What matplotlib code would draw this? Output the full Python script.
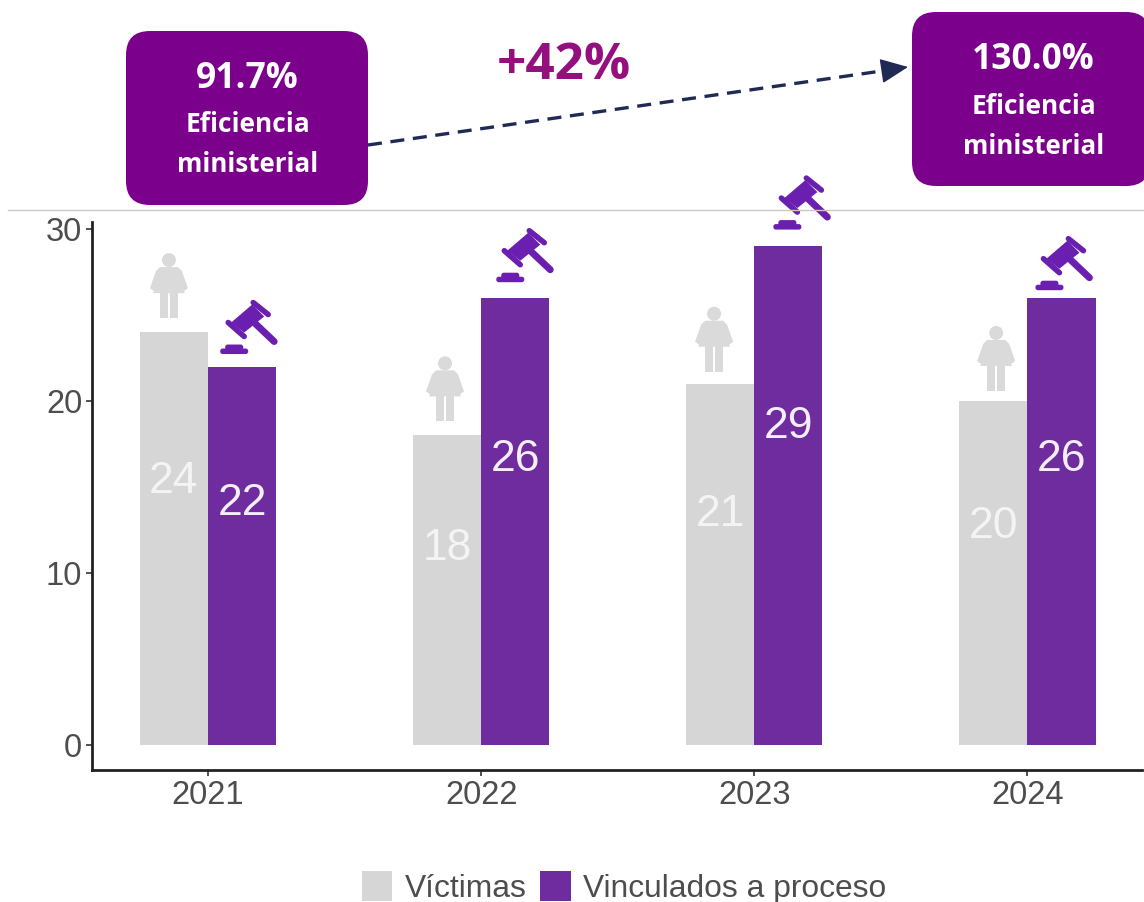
import matplotlib
matplotlib.use("Agg")
import matplotlib.pyplot as plt
from matplotlib.patches import FancyBboxPatch, Polygon, Circle, Rectangle
from matplotlib.lines import Line2D

years = ["2021", "2022", "2023", "2024"]
victimas = [24, 18, 21, 20]
vinculados = [22, 26, 29, 26]
ticks_y = [0, 10, 20, 30]
legend_labels = ["Víctimas", "Vinculados a proceso"]
box_values = ["91.7%", "130.0%"]
box_text = "Eficiencia\nministerial"
change_label = "+42%"

W, H = 1144, 902
GRAY = "#D6D6D6"
ICON_GRAY = "#DADADA"
PURPLE = "#6F2C9E"
MAG = "#7B008B"
TXT = "#4D4D4D"

fig = plt.figure(figsize=(W / 100, H / 100), dpi=100, facecolor="white")
ax = fig.add_axes([92 / W, 1 - 770 / H, (1142 - 92) / W, (770 - 222) / H])
ov = fig.add_axes([0, 0, 1, 1], zorder=5)
ov.set_xlim(0, W); ov.set_ylim(H, 0); ov.axis("off")

xs = list(range(len(years)))
bw = 0.25
b1 = ax.bar([x - bw / 2 for x in xs], victimas, bw, color=GRAY, label=legend_labels[0])
b2 = ax.bar([x + bw / 2 for x in xs], vinculados, bw, color=PURPLE, label=legend_labels[1])
ax.set_xlim(-0.425, 3.42)
ax.set_ylim(-1.45, 30.4)
ax.set_xticks(xs, years)
ax.set_yticks(ticks_y)
ax.tick_params(axis="both", labelsize=23.5, labelcolor=TXT, color="#333333", width=1.2, length=4, pad=3)
for s in ("top", "right"):
    ax.spines[s].set_visible(False)
for s in ("left", "bottom"):
    ax.spines[s].set_linewidth(2)
    ax.spines[s].set_color("#222222")
for t in ax.get_xticklabels() + ax.get_yticklabels():
    t.set_fontfamily("Liberation Sans")

for bars, vals, col in ((b1, victimas, "#F4F4F4"), (b2, vinculados, "#F3EEF8")):
    for r, v in zip(bars, vals):
        ax.text(r.get_x() + r.get_width() / 2, v * 0.645 - 0.17, str(v), ha="center", va="center",
                color=col, fontsize=32, family="Liberation Sans")


def to_px(x, y):
    px, py = ax.transData.transform((x, y))
    return px, H - py


def woman(cx, bottom):
    """Person icon: cx is the centre, bottom is the foot line, in pixels."""
    c = ICON_GRAY
    ov.add_patch(Circle((cx, bottom - 58), 7, color=c, lw=0))
    ov.add_patch(Polygon([(cx - 9, bottom - 51), (cx + 9, bottom - 51), (cx + 13, bottom - 47),
                          (cx + 19, bottom - 30), (cx + 15, bottom - 27), (cx + 10, bottom - 37),
                          (cx + 16, bottom - 25), (cx - 16, bottom - 25), (cx - 10, bottom - 37),
                          (cx - 15, bottom - 27), (cx - 19, bottom - 30), (cx - 13, bottom - 47)],
                         closed=True, color=c, lw=0))
    ov.add_patch(Rectangle((cx - 9, bottom - 27), 8, 27, color=c, lw=0))
    ov.add_patch(Rectangle((cx + 1, bottom - 27), 8, 27, color=c, lw=0))


def gavel(left, top):
    """Gavel icon: left and top are the icon's upper left corner, in pixels."""
    c = "#6B1FB0"
    p = lambda a, b: (left + a, top + b)
    ov.add_line(Line2D(*zip(p(36, 22), p(55, 40)), color=c, lw=5, solid_capstyle="round"))
    ov.add_patch(Polygon([p(12, 21), p(33, 3), p(45, 15), p(25, 31)], closed=True, color=c, lw=0))
    ov.add_line(Line2D(*zip(p(9, 21), p(25, 35)), color=c, lw=4, solid_capstyle="round"))
    ov.add_line(Line2D(*zip(p(34, 1), p(49, 13)), color=c, lw=4, solid_capstyle="round"))
    ov.add_patch(FancyBboxPatch(p(6, 43), 18, 7, boxstyle="round,pad=0,rounding_size=2.5", color=c, lw=0))
    ov.add_patch(FancyBboxPatch(p(1, 47), 28, 5.5, boxstyle="round,pad=0,rounding_size=2.5",
                                color=c, lw=0))


for i, r in enumerate(b1):
    cx, top = to_px(r.get_x() + r.get_width() / 2, victimas[i])
    woman(cx + (-5, -2, -6, 3)[i], top - (14, 14, 12, 10)[i])
for i, r in enumerate(b2):
    cx, top = to_px(r.get_x() + r.get_width() / 2, vinculados[i])
    gavel(cx + (-23, -20, -16, -27)[i], top - (65, 68, 69, 60)[i])

# header boxes
ov.add_line(Line2D([8, W], [210, 210], color="#C9C9C9", lw=1))
BOLD = dict(family="Open Sans", fontweight="bold", color="white", ha="center", va="center")
for (x0, y0, x1, y1), val in zip([(126, 31, 368, 205), (912, 12, 1150, 186)], box_values):
    ov.add_patch(FancyBboxPatch((x0, y0), x1 - x0, y1 - y0, boxstyle="round,pad=0,rounding_size=24",
                                fc=MAG, ec="none", clip_on=True))
    cx = 247.5 if x0 < 500 else 1033.5
    ov.text(cx, y0 + 48, val, fontsize=25.5, **BOLD)
    a, b = box_text.split("\n")
    ov.text(cx, y0 + 94, a, fontsize=19, **BOLD)
    ov.text(cx, y0 + 134, b, fontsize=18.6, **BOLD)

ov.add_line(Line2D([368, 892], [145, 69.5], color="#1F2A55", lw=2.4, linestyle=(0, (4.2, 2.6))))
ov.annotate("", xy=(908, 67), xytext=(888, 70),
            arrowprops=dict(arrowstyle="-|>,head_length=0.8,head_width=0.36", color="#1F2A55",
                            lw=1, mutation_scale=22, shrinkA=0, shrinkB=0))
ov.text(564, 66, change_label, fontsize=37, family="Open Sans", fontweight="bold",
        color="#94107F", ha="center", va="center")

fig.legend(handles=[b1, b2], labels=legend_labels, loc="center", bbox_to_anchor=(624 / W, 1 - 887.5 / H),
           ncol=2, frameon=False, prop={"family": "Liberation Sans", "size": 22.9}, labelcolor=TXT,
           handlelength=0.97, handleheight=1.1, handletextpad=0.4, columnspacing=0.4, borderpad=0)

fig.savefig("out.png", dpi=100, facecolor="white")
